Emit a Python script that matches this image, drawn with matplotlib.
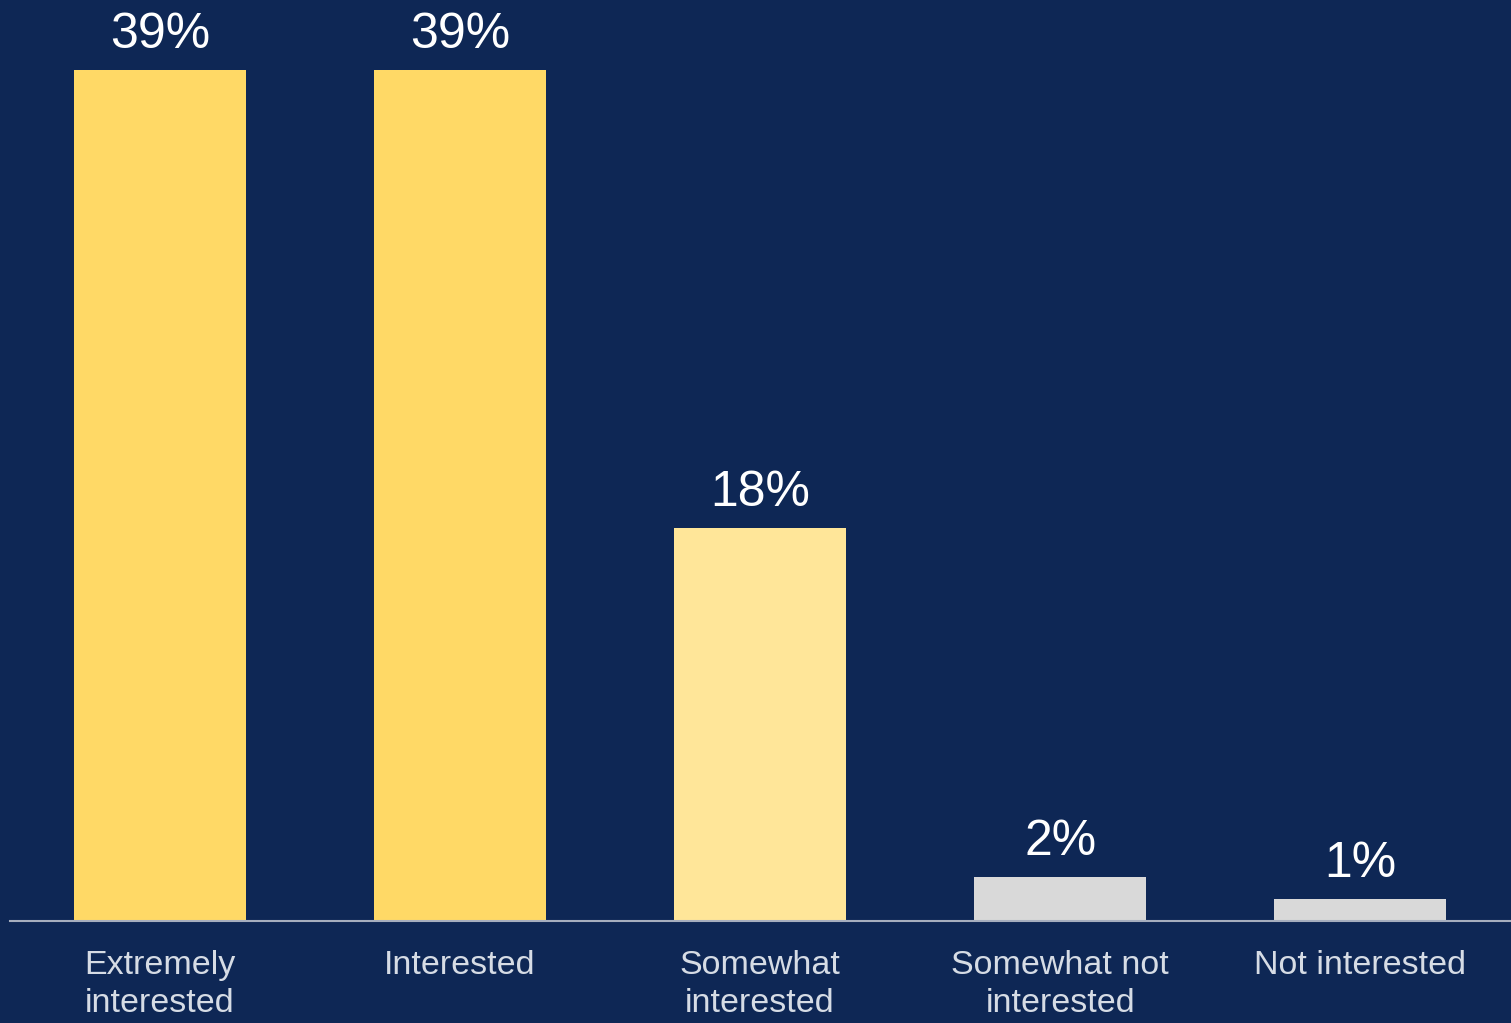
import matplotlib.pyplot as plt

categories = ['Extremely\ninterested', 'Interested', 'Somewhat\ninterested',
              'Somewhat not\ninterested', 'Not interested']
values = [39, 39, 18, 2, 1]
labels = ['39%', '39%', '18%', '2%', '1%']
bar_colors = ['#FFD966', '#FFD966', '#FFE699', '#D9D9D9', '#D9D9D9']

bg = '#0E2755'
plt.rcParams['font.family'] = ['Liberation Sans', 'DejaVu Sans']

fig = plt.figure(figsize=(15.11, 10.23), dpi=100, facecolor=bg)
ax = fig.add_axes([10 / 1511, 102 / 1023, 1501 / 1511, 921 / 1023])
ax.set_facecolor(bg)

x = range(len(categories))
ax.bar(x, values, width=0.575, color=bar_colors, zorder=2)

# value labels above the bars
for xi, v, lab in zip(x, values, labels):
    ax.annotate(lab, (xi, v), xytext=(0, 16), textcoords='offset points',
                ha='center', va='baseline', fontsize=36, color='white')

ax.set_xlim(-0.5, 4.503)
ax.set_ylim(0, 42.2)
ax.set_xticks(list(x))
ax.set_xticklabels(categories, fontsize=24.5, color='#D6DCE5', linespacing=1.3)
ax.tick_params(axis='x', length=0, pad=21)
ax.set_yticks([])
for side in ['top', 'left', 'right']:
    ax.spines[side].set_visible(False)
ax.spines['bottom'].set_color('#A6AEBE')
ax.spines['bottom'].set_linewidth(1.5)

fig.savefig('out.png', dpi=100, facecolor=bg)
